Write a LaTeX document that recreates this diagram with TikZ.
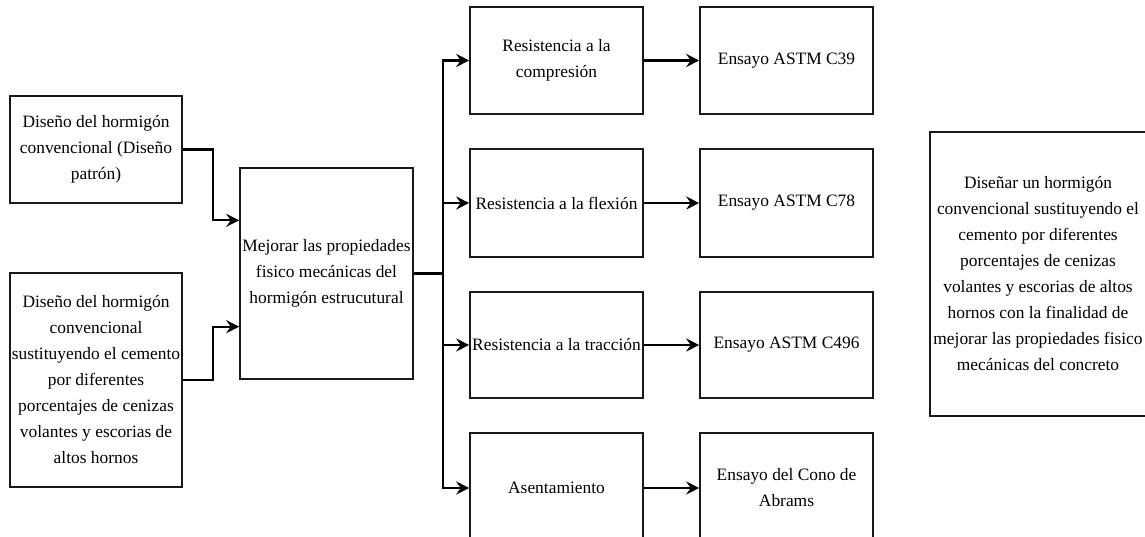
\documentclass[tikz,border=0pt]{standalone}
\usepackage{fontspec}
\setmainfont{Liberation Serif}
\usetikzlibrary{arrows.meta,calc}
\begin{document}
\begin{tikzpicture}[x=1pt,y=-1pt,
  box/.style={draw=black!90, line width=1.6pt, rectangle, inner sep=0pt, align=center,
    font=\fontsize{17.4}{26}\selectfont, text=black},
  smallbox/.style={box, minimum width=173pt},
  conn/.style={line width=2.3pt, draw=black},
  arr/.style={conn, -{Stealth[length=13pt,width=13pt,inset=4.5pt]}}]
\useasboundingbox (0,0) rectangle (1145,537);
\clip (0,0) rectangle (1145,537);
% left inputs
\node[box, minimum width=172pt, minimum height=107pt] (A) at (96,149.5)
  {Diseño del hormigón\\convencional (Diseño\\patrón)};
\node[box, minimum width=172pt, minimum height=214pt] (B) at (96,380)
  {Diseño del hormigón\\convencional\\sustituyendo el cemento\\por diferentes\\porcentajes de cenizas\\volantes y escorias de\\altos hornos};
% central box
\node[box, minimum width=173pt, minimum height=211pt] (C) at (326.5,273.5)
  {Mejorar las propiedades\\fisico mecánicas del\\hormigón estrucutural};
% properties
\node[smallbox, minimum height=107pt] (R1) at (556.5,60.5) {Resistencia a la\\compresión};
\node[smallbox, minimum height=108pt] (R2) at (556.5,203) {Resistencia a la flexión};
\node[smallbox, minimum height=106pt] (R3) at (556.5,345) {Resistencia a la tracción};
\node[smallbox, minimum height=110pt] (R4) at (556.5,488) {Asentamiento};
% tests
\node[smallbox, minimum height=107pt] (E1) at (786.5,60.5) {Ensayo ASTM C39};
\node[smallbox, minimum height=108pt] (E2) at (786.5,203) {Ensayo ASTM C78};
\node[smallbox, minimum height=106pt] (E3) at (786.5,345) {Ensayo ASTM C496};
\node[smallbox, minimum height=110pt] (E4) at (786.5,488) {Ensayo del Cono de\\Abrams};
% objective
\node[box, minimum width=216pt, minimum height=284pt] (O) at (1038,274)
  {Diseñar un hormigón\\convencional sustituyendo el\\cemento por diferentes\\porcentajes de cenizas\\volantes y escorias de altos\\hornos con la finalidad de\\mejorar las propiedades fisico\\mecánicas del concreto};
% connectors into C
\coordinate (Cin1) at ($(C.north west)!0.25!(C.south west)$);
\coordinate (Cin2) at ($(C.north west)!0.75!(C.south west)$);
\draw[arr] (A.east) -- ++(30,0) |- (Cin1);
\draw[arr] (B.east) -- ++(30,0) |- (Cin2);
% bus
\coordinate (bus) at ($(C.east)+(29,0)$);
\draw[conn] (C.east) -- (bus);
\draw[arr] (bus) |- (R1.west);
\draw[arr] (bus) |- (R2.west);
\draw[arr] (bus) |- (R3.west);
\draw[arr] (bus) |- (R4.west);
% to tests
\draw[arr] (R1.east) -- (E1.west);
\draw[arr] (R2.east) -- (E2.west);
\draw[arr] (R3.east) -- (E3.west);
\draw[arr] (R4.east) -- (E4.west);
\end{tikzpicture}
\end{document}
